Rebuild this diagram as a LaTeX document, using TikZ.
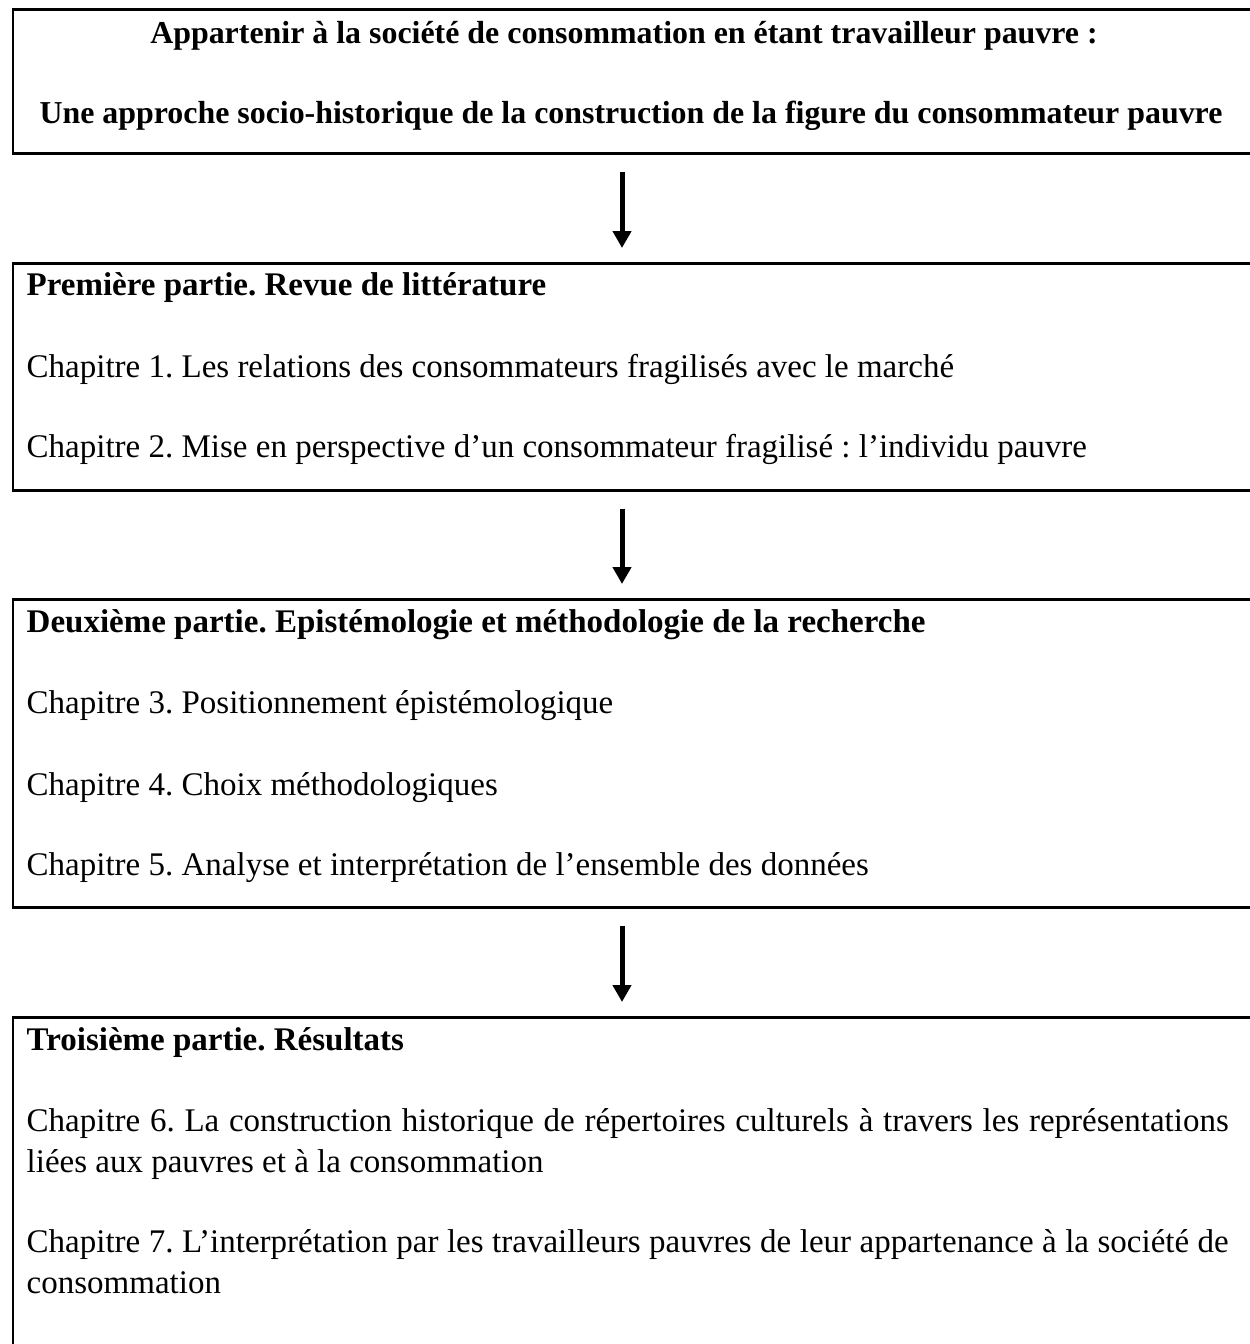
\documentclass[tikz,border=0pt]{standalone}
\usepackage{fontspec}
\setmainfont{Liberation Serif}
\usetikzlibrary{arrows.meta}
\frenchspacing
\begin{document}
\begin{tikzpicture}[x=1pt,y=1pt,
  box/.style={draw=black, line width=2.6pt, rectangle, anchor=north west, minimum width=1300pt, inner sep=0pt},
  txt/.style={inner sep=0pt, anchor=base west, font=\fontsize{33}{40}\selectfont},
  ttl/.style={inner sep=0pt, anchor=base, font=\fontsize{31.9}{40}\selectfont\bfseries},
  arr/.style={line width=5pt, -{Triangle[width=18pt,length=17pt]}, shorten <=17pt, shorten >=14pt}
]
\useasboundingbox (0,0) rectangle (1250,-1344);
\clip (0,0) rectangle (1250,-1344);
% boxes
\node[box, minimum height=144pt] (b1) at (11.5,-8) {};
\node[box, minimum height=227pt] (b2) at (11.5,-262) {};
\node[box, minimum height=308pt] (b3) at (11.5,-598) {};
\node[box, minimum height=400pt] (b4) at (11.5,-1016) {};
% title
\node[ttl] (t1a) at (624,-43) {\frenchspacing Appartenir à la société de consommation en étant travailleur pauvre :};
\node[ttl] (t1b) at (631,-123) {\frenchspacing Une approche socio-historique de la construction de la figure du consommateur pauvre};
% part 1
\node[txt] (t2a) at (26.5,-295) {\frenchspacing\bfseries Première partie. Revue de littérature};
\node[txt] (t2b) at (26.5,-377) {\frenchspacing Chapitre 1. Les relations des consommateurs fragilisés avec le marché};
\node[txt] (t2c) at (26.5,-457) {\frenchspacing Chapitre 2. Mise en perspective d’un consommateur fragilisé : l’individu pauvre};
% part 2
\node[txt] (t3a) at (26.5,-632) {\frenchspacing\bfseries Deuxième partie. Epistémologie et méthodologie de la recherche};
\node[txt] (t3b) at (26.5,-713) {\frenchspacing Chapitre 3. Positionnement épistémologique};
\node[txt] (t3c) at (26.5,-795) {\frenchspacing Chapitre 4. Choix méthodologiques};
\node[txt] (t3d) at (26.5,-875) {\frenchspacing Chapitre 5. Analyse et interprétation de l’ensemble des données};
% part 3
\node[txt] (t4a) at (26.5,-1050) {\frenchspacing\bfseries Troisième partie. Résultats};
\node[txt] (t4b) at (26.5,-1131) {\frenchspacing\makebox[1202pt][s]{Chapitre 6. La construction historique de répertoires culturels à travers les représentations}};
\node[txt] (t4c) at (26.5,-1172) {\frenchspacing liées aux pauvres et à la consommation};
\node[txt] (t4d) at (26.5,-1252) {\frenchspacing\makebox[1202pt][s]{Chapitre 7. L’interprétation par les travailleurs pauvres de leur appartenance à la société de}};
\node[txt] (t4e) at (26.5,-1293) {consommation};
% arrows
\coordinate (ax) at (622,0);
\draw[arr] (b1.south -| ax) -- (b2.north -| ax);
\draw[arr] (b2.south -| ax) -- (b3.north -| ax);
\draw[arr] (b3.south -| ax) -- (b4.north -| ax);
\end{tikzpicture}
\end{document}
